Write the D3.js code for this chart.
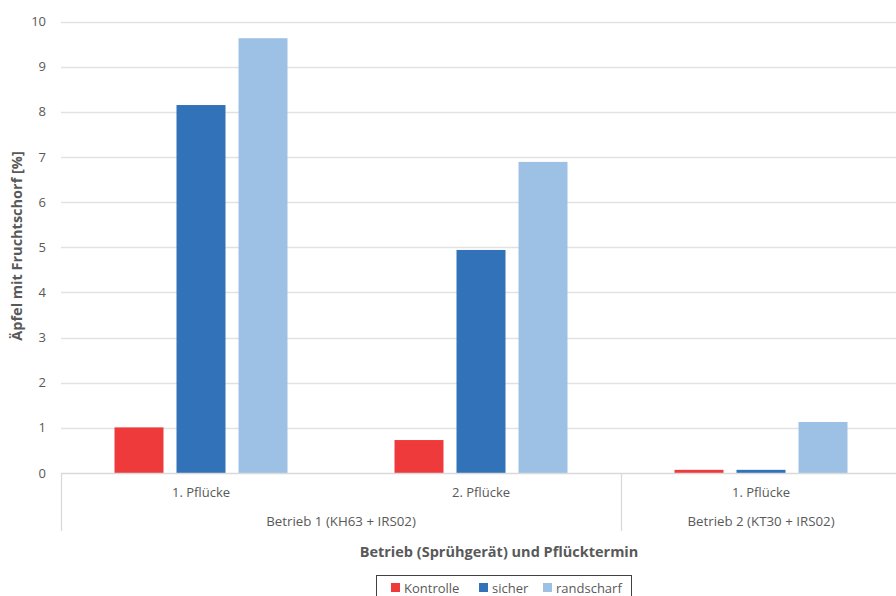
<!DOCTYPE html>
<html><head><meta charset="utf-8">
<script src="https://cdn.jsdelivr.net/npm/d3@7"></script>
<style>
body{margin:0;background:#fff;}
svg{display:block;font-family:"Open Sans","Noto Sans",sans-serif;}
</style></head>
<body>
<svg id="c" width="896" height="596"></svg>
<script>
const categories = ["1. Pflücke", "2. Pflücke", "1. Pflücke"];
const groups = ["Betrieb 1 (KH63 + IRS02)", "Betrieb 2 (KT30 + IRS02)"];
const groupSpans = [[0, 1], [2, 2]];
const seriesNames = ["Kontrolle", "sicher", "randscharf"];
const kontrolle = [1.01, 0.73, 0.07];
const sicher = [8.15, 4.94, 0.07];
const randscharf = [9.63, 6.89, 1.13];
const yTicks = [0,1,2,3,4,5,6,7,8,9,10];
const colors = ["#EF3A3C", "#3172B8", "#9DC0E5"];
const series = [kontrolle, sicher, randscharf];

const svg = d3.select("#c");
const x = d3.scaleBand().domain(d3.range(categories.length)).range([61, 901]).paddingInner(0).paddingOuter(0);
const xs = d3.scaleBand().domain(d3.range(seriesNames.length)).range([0, x.bandwidth()]).paddingInner(0.21).paddingOuter(0.863);
const y = d3.scaleLinear().domain([0, 10]).range([473, 21.5]);

// gridlines
svg.append("g").selectAll("line").data(yTicks.filter(d => d > 0)).join("line")
  .attr("x1", 61).attr("x2", 896).attr("y1", d => Math.round(y(d)) + 0.5).attr("y2", d => Math.round(y(d)) + 0.5)
  .attr("stroke", "#E2E2E2").attr("stroke-width", 1.3);

// y tick labels
svg.append("g").selectAll("text").data(yTicks).join("text")
  .attr("x", 46).attr("y", d => y(d)).attr("dy", "0.35em").attr("text-anchor", "end")
  .attr("fill", "#595959").attr("font-size", 13).text(d => d);

// bars
series.forEach((vals, si) => {
  svg.append("g").selectAll("rect").data(vals).join("rect")
    .attr("x", (d, i) => x(i) + xs(si)).attr("width", xs.bandwidth())
    .attr("y", d => y(d)).attr("height", d => y(0) - y(d))
    .attr("fill", colors[si]);
});

// axis line
svg.append("line").attr("x1", 61).attr("x2", 896).attr("y1", 473.5).attr("y2", 473.5)
  .attr("stroke", "#D9D9D9").attr("stroke-width", 1.3);
// group separators
const sepX = [0, ...groupSpans.map(s => s[1] + 1)];
svg.append("g").selectAll("line").data(sepX).join("line")
  .attr("x1", d => Math.round(d < categories.length ? x(d) : x(categories.length-1) + x.bandwidth()) + 0.5)
  .attr("x2", d => Math.round(d < categories.length ? x(d) : x(categories.length-1) + x.bandwidth()) + 0.5)
  .attr("y1", 473).attr("y2", 531).attr("stroke", "#D9D9D9").attr("stroke-width", 1.3);

// category labels
svg.append("g").selectAll("text").data(categories).join("text")
  .attr("x", (d, i) => x(i) + x.bandwidth() / 2).attr("y", 492).attr("dy", "0.35em")
  .attr("text-anchor", "middle").attr("fill", "#595959").attr("font-size", 13).text(d => d);
// group labels
svg.append("g").selectAll("text").data(groups).join("text")
  .attr("x", (d, i) => (x(groupSpans[i][0]) + x(groupSpans[i][1]) + x.bandwidth()) / 2).attr("y", 521).attr("dy", "0.35em")
  .attr("text-anchor", "middle").attr("fill", "#595959").attr("font-size", 13.3).text(d => d);

// axis titles
svg.append("text").attr("x", 499).attr("y", 552).attr("dy", "0.35em").attr("text-anchor", "middle")
  .attr("fill", "#595959").attr("font-size", 14.5).attr("font-weight", "bold").text("Betrieb (Sprühgerät) und Pflücktermin");
svg.append("text").attr("transform", "translate(17,246) rotate(-90)").attr("dy", "0.35em").attr("text-anchor", "middle")
  .attr("fill", "#595959").attr("font-size", 14.5).attr("font-weight", "bold").text("Äpfel mit Fruchtschorf [%]");

// legend
svg.append("rect").attr("x", 376.5).attr("y", 575.5).attr("width", 255).attr("height", 40)
  .attr("fill", "#fff").attr("stroke", "#404040").attr("stroke-width", 1);
const legX = [391, 479, 543];
const lg = svg.append("g").selectAll("g").data(seriesNames).join("g")
  .attr("transform", (d, i) => `translate(${legX[i]},583)`);
lg.append("rect").attr("width", 9).attr("height", 9).attr("fill", (d, i) => colors[i]);
lg.append("text").attr("x", 13).attr("y", 5).attr("dy", "0.35em").attr("fill", "#595959").attr("font-size", 13).text(d => d);
</script>
</body></html>
